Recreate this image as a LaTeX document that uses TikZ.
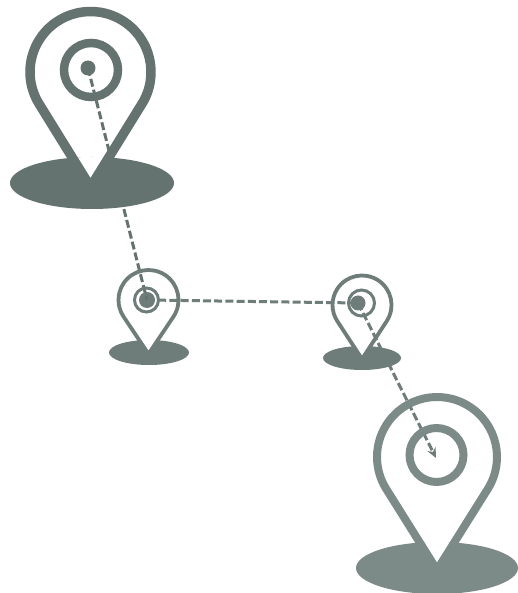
\documentclass[tikz,border=0pt]{standalone}
\usetikzlibrary{arrows.meta}
\definecolor{inkA}{HTML}{64736F}
\definecolor{inkB}{HTML}{6E7D79}
\definecolor{inkC}{HTML}{7C8B87}
\tikzset{
  route/.style={line width=3pt,dash pattern=on 8pt off 3.2pt},
  dotmark/.style={circle,inner sep=0pt,draw=none}
}
\newcommand{\pinpath}[4]{
  \pgfmathsetmacro{\pa}{acos(#3/#4)}
  \pgfmathsetmacro{\py}{593-#2}
  \pgfmathsetmacro{\pb}{-90+\pa}
  \pgfmathsetmacro{\pc}{270-\pa}
  \pgfmathsetmacro{\px}{#1+#3*cos(\pb)}
  \pgfmathsetmacro{\pz}{\py+#3*sin(\pb)}
  \pgfmathsetmacro{\pt}{\py-#4}
  \def\pinshape{(\px,\pz) arc[start angle=\pb,end angle=\pc,radius=#3] -- (#1,\pt) -- cycle}
}
\newcommand{\ground}[5]{\fill[#5] (#1,593-#2) ellipse[x radius=#3,y radius=#4];}
\newcommand{\pinbody}[6]{
  \pinpath{#1}{#2}{#3}{#4}
  \draw[#6,line width=#5pt,line join=miter] \pinshape;
}
\newcommand{\pinwedge}[8]{
  \pinpath{#1}{#2}{#3}{#4}
  \begin{scope}
    \clip (#5,593-#6) ellipse[x radius=#7,y radius=#8];
    \fill[white] \pinshape;
  \end{scope}
}
\begin{document}
\begin{tikzpicture}[x=1pt,y=1pt]
\useasboundingbox (0,0) rectangle (518,593);
\fill[white] (0,0) rectangle (518,593);
% stops on the route
\node[dotmark,fill=inkA,minimum size=15pt] (d1) at (88,593-68) {};
\node[dotmark,fill=inkB,minimum size=16pt] (d2) at (147,593-300) {};
\node[dotmark,fill=inkB,minimum size=15pt] (d3) at (358,593-303) {};
\coordinate (d4) at (436,593-458);
% route
\draw[route,inkA] (d1.center) -- (d2.center);
\draw[route,inkB] (d2.center) -- (d3.center);
\draw[route,inkB,-{Stealth[length=10pt,width=9pt]}] (d3.center) -- (d4);
% grounds
\ground{92}{183}{82}{26}{inkA}
\ground{149}{352.5}{40}{12.5}{inkB}
\ground{362}{358}{39}{12}{inkB}
\ground{437}{568}{81}{26}{inkC}
% white wedges cut into the grounds
\pinwedge{90.5}{72}{60.5}{115}{92}{183}{82}{26}
\pinwedge{148.5}{300}{30}{54}{149}{352.5}{40}{12.5}
\pinwedge{362}{305}{29.5}{54}{362}{358}{39}{12}
\pinwedge{437}{457}{60}{113}{437}{568}{81}{26}
% pin outlines
\pinbody{90.5}{72}{60.5}{115}{9.5}{inkA}
\pinbody{148.5}{300}{30}{54}{3.8}{inkB}
\pinbody{362}{305}{29.5}{54}{3.8}{inkB}
\pinbody{437}{457}{60}{113}{8}{inkC}
% rings
\draw[inkA,line width=8.5pt] (91,593-70) circle[radius=27];
\draw[inkB,line width=3pt] (146.5,593-300) circle[radius=12];
\draw[inkB,line width=3pt] (361.5,593-303) circle[radius=13];
\draw[inkC,line width=8pt] (436.5,593-455) circle[radius=27];
\end{tikzpicture}
\end{document}
